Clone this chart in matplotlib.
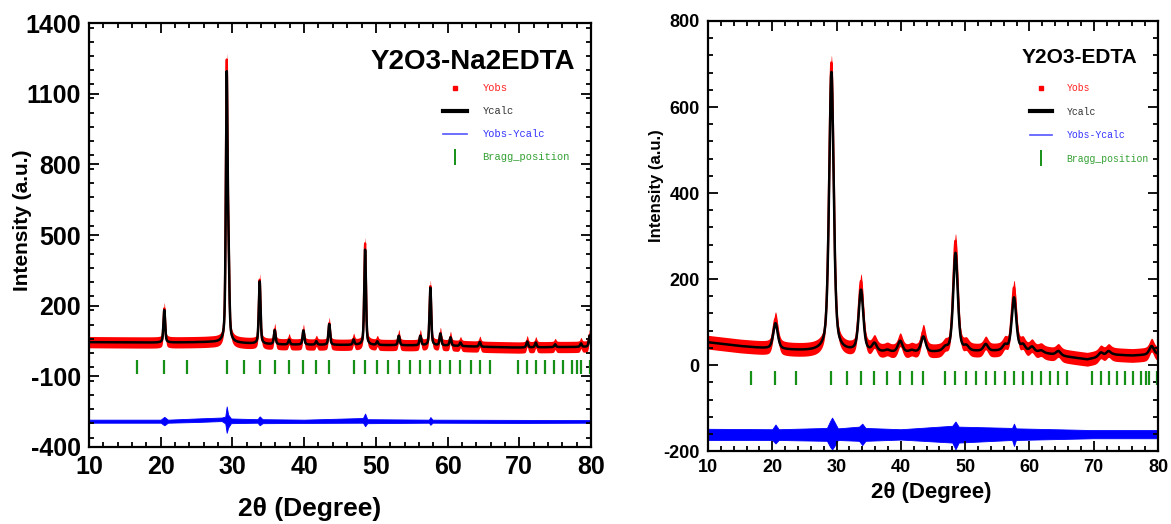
import numpy as np
import matplotlib
matplotlib.use("Agg")
import matplotlib.pyplot as plt
from matplotlib.lines import Line2D
from matplotlib.ticker import MultipleLocator
from matplotlib import font_manager

installed = {f.name for f in font_manager.fontManager.ttflist}
narrow = "Liberation Sans Narrow" if "Liberation Sans Narrow" in installed else "Liberation Sans"
plt.rcParams["font.family"] = [narrow, "DejaVu Sans"]
plt.rcParams["axes.unicode_minus"] = False

# Bragg reflections of cubic Y2O3 (2theta, degree)
bragg = [16.7, 20.5, 23.7, 29.2, 31.6, 33.8, 35.9, 37.9, 39.9, 41.7, 43.5,
         46.9, 48.5, 50.2, 51.7, 53.2, 54.7, 56.2, 57.6, 59.0, 60.4, 61.8,
         63.2, 64.5, 65.9, 69.8, 71.1, 72.3, 73.6, 74.9, 76.1, 77.4, 78.1,
         78.6, 79.8]

# --- Y2O3-Na2EDTA (left) ---
na_bg_x = [10, 20, 27, 36, 45, 52, 60, 65, 70, 75, 80]
na_bg_y = [45, 43, 45, 35, 33, 32, 30, 25, 22, 24, 25]
na_pos = [20.5, 29.2, 29.45, 33.8, 35.9, 37.9, 39.9, 41.7, 43.5, 46.9, 48.5,
          50.2, 53.2, 56.2, 57.6, 59.0, 60.4, 61.8, 64.5, 71.1, 72.3, 75.0,
          78.6, 79.8]
na_calc = [138, 1100, 300, 265, 60, 20, 60, 15, 88, 22, 405,
           15, 40, 40, 245, 50, 35, 15, 20, 25, 20, 12,
           15, 48]
na_obs = [145, 1150, 300, 272, 64, 22, 62, 16, 92, 24, 432,
          16, 42, 42, 252, 52, 36, 16, 21, 26, 21, 13,
          16, 50]
na_hwhm = 0.14
na_diff_x = [10, 20, 20.5, 21, 25, 28.5, 29.0, 29.2, 29.4, 29.8, 33.5, 33.8,
             34.2, 40, 48.2, 48.5, 48.8, 57.4, 57.6, 57.9, 70, 80]
na_diff_hi = [-284, -284, -272, -284, -279, -275, -271, -228, -262, -279, -282,
              -270, -282, -284, -277, -258, -282, -284, -273, -284, -285, -286]
na_diff_lo = [-297, -297, -308, -297, -294, -290, -300, -340, -318, -299, -297,
              -308, -299, -298, -297, -312, -299, -297, -306, -297, -298, -297]

# --- Y2O3-EDTA (right) ---
ed_bg_x = [10, 15, 20, 25, 28, 36, 40, 45, 52, 56, 62, 66, 69, 73, 76, 80]
ed_bg_y = [53, 44, 37, 33, 31, 30, 29, 29, 31, 32, 28, 19, 13, 24, 22, 25]
ed_pos = [20.5, 29.2, 33.8, 35.9, 37.9, 39.9, 41.7, 43.5, 46.9, 48.5, 50.2,
          53.2, 56.2, 57.6, 59.0, 60.4, 61.8, 64.5, 71.1, 72.3, 79.0]
ed_calc = [60, 650, 142, 18, 4, 26, 4, 36, 8, 230, 10,
           16, 12, 125, 14, 12, 5, 10, 10, 10, 20]
ed_obs = [70, 672, 162, 20, 5, 28, 5, 48, 9, 258, 11,
          18, 14, 148, 15, 13, 6, 11, 11, 11, 22]
ed_hwhm = 0.42
ed_diff_x = [10, 20, 20.5, 21, 28.5, 29.0, 29.3, 29.6, 30.2, 33.5, 34.0, 34.5,
             40, 48.0, 48.5, 49.0, 57.3, 57.6, 57.9, 70, 80]
ed_diff_hi = [-148, -149, -138, -149, -146, -130, -122, -130, -147, -143, -136,
              -146, -149, -141, -131, -143, -146, -136, -147, -151, -151]
ed_diff_lo = [-174, -174, -182, -174, -176, -190, -196, -190, -174, -176, -186,
              -176, -173, -180, -196, -180, -174, -188, -174, -170, -170]

tt = np.linspace(10, 80, 7001)


def profile(bg_x, bg_y, pos, heights, hwhm):
    # pseudo-Voigt peaks on an interpolated background
    y = np.interp(tt, bg_x, bg_y)
    for p, h in zip(pos, heights):
        d = (tt - p) / hwhm
        y = y + h * (0.5 / (1 + d ** 2) + 0.5 * np.exp(-np.log(2) * d ** 2))
    return y


def draw(ax, bg_x, bg_y, pos, calc, obs, hwhm, dx, dlo, dhi, band,
         tick_lo, tick_hi, ylim, ystep, yminor, tick_fs, title, title_fs,
         title_xy, leg_xy, leg_fs, leg_space):
    y_calc = profile(bg_x, bg_y, pos, calc, hwhm)
    y_obs = profile(bg_x, bg_y, pos, obs, hwhm)
    ax.fill_between(tt, y_obs - band, y_obs + band, color="red", lw=0)
    ax.plot(tt, y_obs, color="red", lw=1.6)
    ax.plot(tt, y_calc, color="black", lw=1.8)
    ax.vlines(bragg, tick_lo, tick_hi, color="#169016", lw=1.6)
    ax.fill_between(dx, dlo, dhi, color="blue", lw=0.6, edgecolor="blue")

    ax.set_xlim(10, 80)
    ax.set_ylim(*ylim)
    ax.set_xticks(range(10, 81, 10))
    ax.set_yticks(np.arange(ylim[0], ylim[1] + 1, ystep))
    ax.xaxis.set_minor_locator(MultipleLocator(2))
    ax.yaxis.set_minor_locator(MultipleLocator(yminor))
    ax.tick_params(which="both", direction="in", top=True, right=True, width=1.3)
    ax.tick_params(which="major", length=7, labelsize=tick_fs, pad=6)
    ax.tick_params(which="minor", length=3.5)
    for lab in ax.get_xticklabels() + ax.get_yticklabels():
        lab.set_fontweight("bold")
    for s in ax.spines.values():
        s.set_linewidth(1.6)

    ax.text(title_xy[0], title_xy[1], title, transform=ax.transAxes, ha="right",
            va="center", fontsize=title_fs, fontweight="bold",
            family=["Liberation Sans", "DejaVu Sans"])

    handles = [
        Line2D([], [], ls="none", marker="s", ms=2.5, color="red"),
        Line2D([], [], color="black", lw=3),
        Line2D([], [], color="#5555ff", lw=1.2),
        Line2D([], [], ls="none", marker="|", ms=12, mew=1.4, color="#169016"),
    ]
    labels = ["Yobs", "Ycalc", "Yobs-Ycalc", "Bragg_position"]
    leg = ax.legend(handles, labels, loc="upper left", bbox_to_anchor=leg_xy,
                    frameon=False, borderpad=0, borderaxespad=0,
                    handlelength=2.3, handletextpad=1.5, labelspacing=leg_space,
                    prop={"family": ["Liberation Mono", "DejaVu Sans Mono"],
                          "size": leg_fs})
    for txt, c in zip(leg.get_texts(), ["#ff2020", "#333333", "#3333ff", "#33a033"]):
        txt.set_color(c)


fig = plt.figure(figsize=(11.71, 5.24), dpi=100)
ax1 = fig.add_axes([0.076, 0.147, 0.4287, 0.809])
ax2 = fig.add_axes([0.6046, 0.139, 0.3843, 0.821])

draw(ax1, na_bg_x, na_bg_y, na_pos, na_calc, na_obs, na_hwhm,
     na_diff_x, na_diff_lo, na_diff_hi, 24, -90, -30, (-400, 1400), 300, 60,
     18, "Y2O3-Na2EDTA", 20, (0.968, 0.908), (0.705, 0.858), 7.5, 1.25)
draw(ax2, ed_bg_x, ed_bg_y, ed_pos, ed_calc, ed_obs, ed_hwhm,
     ed_diff_x, ed_diff_lo, ed_diff_hi, 16, -47, -14, (-200, 800), 200, 40,
     13, "Y2O3-EDTA", 15, (0.955, 0.914), (0.715, 0.856), 7, 1.4)

fig.text(0.0188, 0.58, "Intensity (a.u.)", rotation=90, ha="center", va="center",
         fontsize=15, fontweight="bold", family=["Liberation Sans", "DejaVu Sans"])
fig.text(0.561, 0.645, "Intensity (a.u.)", rotation=90, ha="center", va="center",
         fontsize=12, fontweight="bold", family=["Liberation Sans", "DejaVu Sans"])
fig.text(0.264, 0.029, "2\u03b8 (Degree)", ha="center", va="center",
         fontsize=19, fontweight="bold")
fig.text(0.795, 0.061, "2\u03b8 (Degree)", ha="center", va="center",
         fontsize=16, fontweight="bold")

fig.savefig("out.png", dpi=100)
